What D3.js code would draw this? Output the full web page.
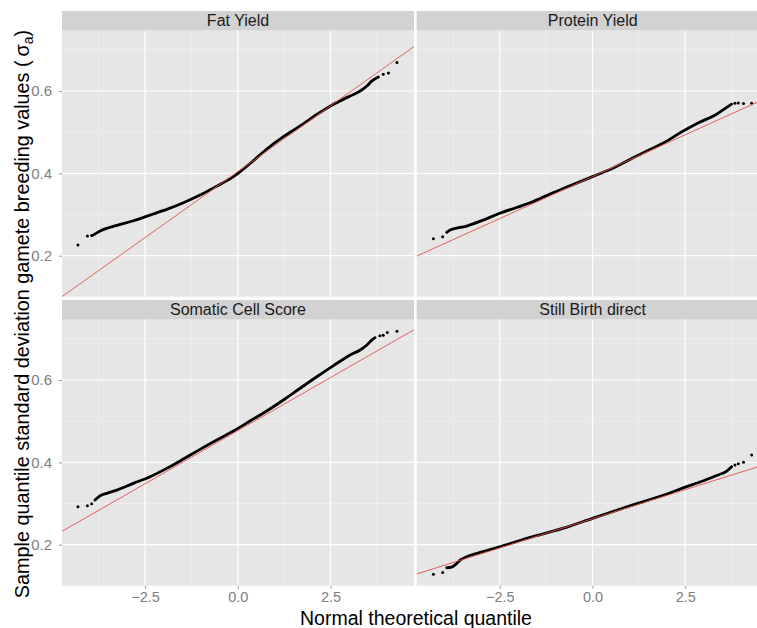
<!DOCTYPE html>
<html>
<head>
<meta charset="utf-8">
<script src="https://cdn.jsdelivr.net/npm/d3@7/dist/d3.min.js"></script>
<style>
  html, body { margin: 0; padding: 0; background: #ffffff; }
  svg { display: block; }
  text { font-family: "Liberation Sans", Arial, sans-serif; }
</style>
</head>
<body>
<svg id="chart" width="757" height="628"></svg>
<script>
// ---------------- data ----------------
const panelNames = ["Fat Yield", "Protein Yield", "Somatic Cell Score", "Still Birth direct"];

// reference (qq) line for each panel: intercept and slope
const lineIntercept = [0.404, 0.392, 0.477, 0.263];
const lineSlope     = [0.064, 0.0407, 0.0516, 0.0283];

// dense part of the sample quantiles (theoretical quantile, sample value)
const fatQ = [-3.90, -3.71, -3.26, -2.815, -2.365, -1.915, -1.467, -1.017, -0.566, -0.119, 0.33, 0.78, 1.23, 1.68, 2.13, 2.58, 3.03, 3.30, 3.48, 3.61, 3.79];
const fatV = [0.250, 0.260, 0.2736, 0.2848, 0.2987, 0.3125, 0.3286, 0.3473, 0.369, 0.392, 0.424, 0.459, 0.489, 0.515, 0.543, 0.568, 0.588, 0.600, 0.612, 0.624, 0.634];
const protQ = [-3.93, -3.84, -3.39, -2.95, -2.50, -2.05, -1.61, -1.16, -0.71, 0.00, 0.63, 1.07, 1.52, 1.97, 2.41, 2.86, 3.31, 3.58, 3.75];
const protV = [0.2566, 0.2622, 0.272, 0.2865, 0.303, 0.317, 0.331, 0.349, 0.366, 0.392, 0.416, 0.4365, 0.4566, 0.4768, 0.501, 0.523, 0.5417, 0.558, 0.568];
const scsQ = [-3.85, -3.71, -3.53, -3.26, -2.815, -2.365, -1.915, -1.467, -1.017, -0.566, -0.119, 0.33, 0.78, 1.23, 1.68, 2.13, 2.58, 3.03, 3.30, 3.48, 3.61, 3.70];
const scsV = [0.3084, 0.319, 0.3247, 0.3327, 0.349, 0.3652, 0.3854, 0.408, 0.4316, 0.4542, 0.476, 0.5004, 0.5247, 0.5514, 0.580, 0.608, 0.635, 0.661, 0.673, 0.685, 0.697, 0.703];
const sbQ = [-3.93, -3.80, -3.66, -3.57, -3.39, -2.95, -2.50, -1.61, -0.71, 0.00, 1.07, 1.97, 2.41, 2.86, 3.31, 3.62, 3.75];
const sbV = [0.144, 0.1455, 0.1546, 0.1626, 0.1708, 0.183, 0.195, 0.2194, 0.242, 0.264, 0.2962, 0.322, 0.3368, 0.351, 0.3667, 0.3789, 0.3895];

// isolated tail points
const fatTailQ  = [-4.31, -4.055, -3.94, 3.92, 4.06, 4.29];
const fatTailV  = [0.226, 0.2476, 0.249, 0.641, 0.644, 0.669];
const protTailQ = [-4.29, -4.04, 3.84, 3.93, 4.07, 4.29];
const protTailV = [0.241, 0.246, 0.5705, 0.571, 0.5695, 0.570];
const scsTailQ  = [-4.31, -4.055, -3.94, 3.83, 3.92, 4.03, 4.29];
const scsTailV  = [0.292, 0.2946, 0.2996, 0.7077, 0.709, 0.7155, 0.7187];
const sbTailQ   = [-4.29, -4.04, 3.84, 3.93, 4.07, 4.29];
const sbTailV   = [0.128, 0.1327, 0.3935, 0.3968, 0.400, 0.4178];

const xTicks = [-2.5, 0.0, 2.5];
const xMinor = [-3.75, -1.25, 1.25, 3.75];
const yTicks = [0.2, 0.4, 0.6];
const yMinor = [0.1, 0.3, 0.5, 0.7];

const xTitle = "Normal theoretical quantile";
const yTitle = "Sample quantile standard deviation gamete breeding values (";

// ---------------- layout ----------------
const curveQ = [fatQ, protQ, scsQ, sbQ];
const curveV = [fatV, protV, scsV, sbV];
const tailQ = [fatTailQ, protTailQ, scsTailQ, sbTailQ];
const tailV = [fatTailV, protTailV, scsTailV, sbTailV];

const svg = d3.select("#chart");
const colX = [62, 416.7];
const panelW = 352;
const rowY = [11, 300];
const stripH = 19.7;
const panelH = 266;

const x = d3.scaleLinear().domain([-4.74, 4.75]).range([0, panelW]);
const y = d3.scaleLinear().domain([0.1004, 0.7465]).range([panelH, 0]);

const defs = svg.append("defs");

panelNames.forEach((name, i) => {
  const c = i % 2, r = Math.floor(i / 2);
  const gx = colX[c], gy = rowY[r];

  // strip
  svg.append("rect").attr("x", gx).attr("y", gy).attr("width", panelW).attr("height", stripH)
    .attr("fill", "#d2d2d2");
  svg.append("text").attr("x", gx + panelW / 2).attr("y", gy + stripH / 2 + 5.5)
    .attr("text-anchor", "middle").attr("font-size", 16).attr("fill", "#1a1a1a").text(name);

  const g = svg.append("g").attr("transform", `translate(${gx},${gy + stripH})`);
  defs.append("clipPath").attr("id", "clip" + i).append("rect")
    .attr("width", panelW).attr("height", panelH);

  g.append("rect").attr("width", panelW).attr("height", panelH).attr("fill", "#e6e6e6");

  const grid = g.append("g").attr("clip-path", `url(#clip${i})`);
  grid.selectAll(".xmin").data(xMinor).join("line")
    .attr("x1", d => x(d)).attr("x2", d => x(d)).attr("y1", 0).attr("y2", panelH)
    .attr("stroke", "#f3f3f3").attr("stroke-width", 0.6);
  grid.selectAll(".ymin").data(yMinor).join("line").attr("class", "ymin")
    .attr("y1", d => y(d)).attr("y2", d => y(d)).attr("x1", 0).attr("x2", panelW)
    .attr("stroke", "#f3f3f3").attr("stroke-width", 0.6);
  grid.selectAll(".xmaj").data(xTicks).join("line").attr("class", "xmaj")
    .attr("x1", d => x(d)).attr("x2", d => x(d)).attr("y1", 0).attr("y2", panelH)
    .attr("stroke", "#ffffff").attr("stroke-width", 1.2);
  grid.selectAll(".ymaj").data(yTicks).join("line").attr("class", "ymaj")
    .attr("y1", d => y(d)).attr("y2", d => y(d)).attr("x1", 0).attr("x2", panelW)
    .attr("stroke", "#ffffff").attr("stroke-width", 1.2);

  const pts = curveQ[i].map((q, k) => [q, curveV[i][k]]);
  const tails = tailQ[i].map((q, k) => [q, tailV[i][k]]);
  const plot = g.append("g").attr("clip-path", `url(#clip${i})`);

  plot.append("path").datum(pts)
    .attr("d", d3.line().x(d => x(d[0])).y(d => y(d[1])).curve(d3.curveMonotoneX))
    .attr("fill", "none").attr("stroke", "#000").attr("stroke-width", 2.8)
    .attr("stroke-linecap", "round").attr("stroke-linejoin", "round");
  plot.selectAll("circle").data(tails).join("circle")
    .attr("cx", d => x(d[0])).attr("cy", d => y(d[1])).attr("r", 1.5).attr("fill", "#000");

  const xd = x.domain();
  plot.append("line")
    .attr("x1", x(xd[0])).attr("y1", y(lineIntercept[i] + lineSlope[i] * xd[0]))
    .attr("x2", x(xd[1])).attr("y2", y(lineIntercept[i] + lineSlope[i] * xd[1]))
    .attr("stroke", "#e5504a").attr("stroke-width", 0.9);

  // axes
  if (c === 0) {
    const ya = g.append("g").call(d3.axisLeft(y).tickValues(yTicks).tickFormat(d3.format(".1f")).tickSize(3).tickPadding(7));
    ya.select(".domain").remove();
    ya.selectAll("line").attr("stroke", "#999");
    ya.selectAll("text").attr("font-size", 15).attr("fill", "#808080")
      .attr("font-family", '"Liberation Sans", Arial, sans-serif');
  }
  if (r === 1) {
    const xa = g.append("g").attr("transform", `translate(0,${panelH})`)
      .call(d3.axisBottom(x).tickValues(xTicks).tickFormat(d3.format(".1f")).tickSize(3).tickPadding(3.5));
    xa.select(".domain").remove();
    xa.selectAll("line").attr("stroke", "#999");
    xa.selectAll("text").attr("font-size", 14.5).attr("fill", "#808080")
      .attr("font-family", '"Liberation Sans", Arial, sans-serif');
  }
});

// axis titles
svg.append("text").attr("x", 416).attr("y", 625).attr("text-anchor", "middle")
  .attr("font-size", 19.5).attr("fill", "#000").text(xTitle);

const yt = svg.append("text").attr("transform", "translate(29,314) rotate(-90)")
  .attr("text-anchor", "middle").attr("font-size", 19.8).attr("fill", "#000");
yt.append("tspan").text(yTitle + "\u2009σ");
yt.append("tspan").attr("font-size", 14).attr("dy", 4).text("a");
yt.append("tspan").attr("dy", -4).text(")");
</script>
</body>
</html>
